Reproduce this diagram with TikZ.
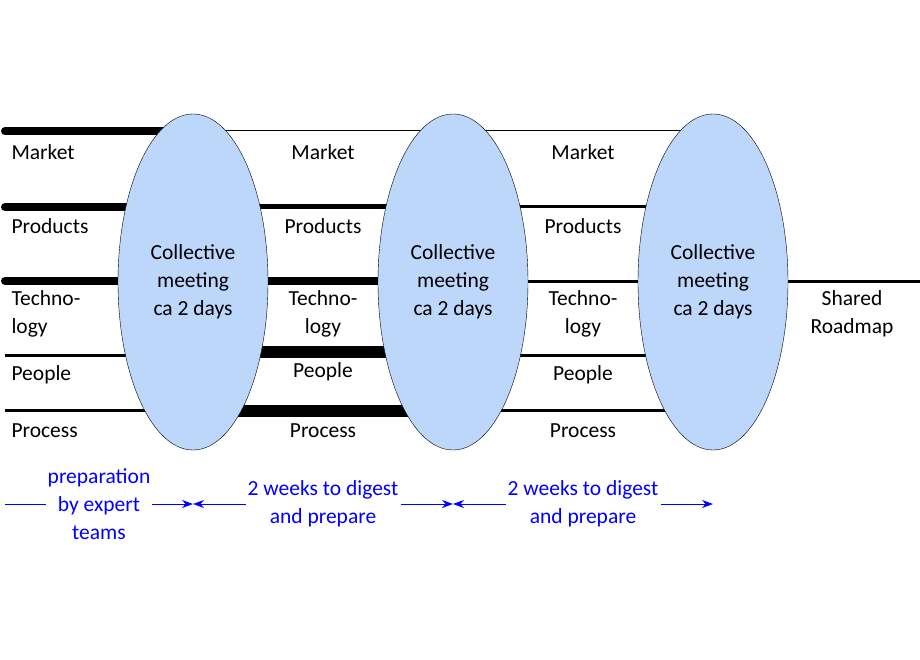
\documentclass[tikz,border=0pt]{standalone}
\usepackage{fontspec}
\setmainfont{Carlito}
\usetikzlibrary{arrows.meta,shapes.geometric}
\definecolor{meetfill}{RGB}{189,215,250}
\tikzset{
  meeting/.style={draw, fill=meetfill, ellipse, minimum width=150pt, minimum height=336pt, align=center, font=\fontsize{21.5}{28}\selectfont},
  lbl/.style={anchor=west, align=left, font=\fontsize{21.5}{28}\selectfont},
  clbl/.style={align=center, font=\fontsize{21.5}{28}\selectfont},
  note/.style={align=center, text=blue, inner sep=2pt, font=\fontsize{21.5}{28}\selectfont},
  span/.style={blue, line width=1pt, -{Stealth[length=11pt,width=8pt]}},
}
\begin{document}
\begin{tikzpicture}[x=1pt, y=-1pt]
  \useasboundingbox (0,0) rectangle (920,660);
  % strands
  \draw[line width=8pt, line cap=round] (5,131) -- (193,131);
  \draw[line width=8pt, line cap=round] (5,207) -- (193,207);
  \draw[line width=8pt, line cap=round] (5,281) -- (193,281);
  \draw[line width=3pt] (5,355) -- (193,355);
  \draw[line width=3pt] (5,410) -- (193,410);
  \draw[line width=1pt] (193,131) -- (713,131);
  \draw[line width=5pt] (193,207) -- (453,207);
  \draw[line width=8pt] (193,281) -- (453,281);
  \draw[line width=12pt] (193,352) -- (453,352);
  \draw[line width=12pt] (193,411) -- (453,411);
  \draw[line width=3pt] (453,207) -- (713,207);
  \draw[line width=3pt] (453,281) -- (920,281);
  \draw[line width=3pt] (453,355) -- (713,355);
  \draw[line width=3pt] (453,410) -- (713,410);
  % meetings
  \node[meeting] (m1) at (193,282) {Collective\\meeting\\ca 2 days};
  \node[meeting] (m2) at (453,282) {Collective\\meeting\\ca 2 days};
  \node[meeting] (m3) at (713,282) {Collective\\meeting\\ca 2 days};
  % labels
  \node[lbl] (mk0) at (8,152) {Market};
  \node[lbl] (pr0) at (8,226) {Products};
  \node[lbl] (te0) at (8,314) {Techno-\\logy};
  \node[lbl] (pe0) at (8,375) {People};
  \node[lbl] (pc0) at (8,431) {Process};
  \foreach \x/\n in {323/1, 583/2} {
    \node[clbl] (mk\n) at (\x,152) {Market};
    \node[clbl] (pr\n) at (\x,226) {Products};
    \node[clbl] (te\n) at (\x,314) {Techno-\\logy};
    \node[clbl] (pc\n) at (\x,431) {Process};
  }
  \node[clbl] (pe1) at (323,372) {People};
  \node[clbl] (pe2) at (583,375) {People};
  \node[clbl] (shared) at (852,314) {Shared\\Roadmap};
  % timing notes
  \node[note] (n0) at (99,504) {preparation\\by expert\\teams};
  \node[note] (n1) at (323,504) {2 weeks to digest\\and prepare};
  \node[note] (n2) at (583,504) {2 weeks to digest\\and prepare};
  \coordinate (a0) at (5,504);
  \coordinate (t1) at (193,504);
  \coordinate (t2) at (453,504);
  \coordinate (t3) at (713,504);
  \draw[blue, line width=1pt] (a0) -- (n0.west |- a0);
  \draw[span] (n0.east |- a0) -- (t1);
  \draw[span] (n1.west |- t1) -- (t1);
  \draw[span] (n1.east |- t2) -- (t2);
  \draw[span] (n2.west |- t2) -- (t2);
  \draw[span] (n2.east |- t3) -- (t3);
\end{tikzpicture}
\end{document}
